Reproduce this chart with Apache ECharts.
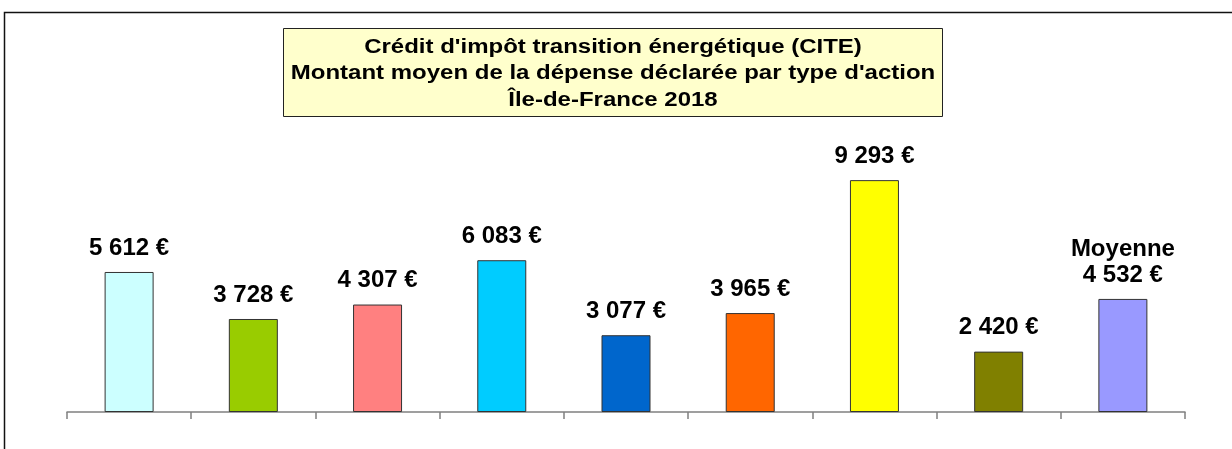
<!DOCTYPE html>
<html lang="fr">
<head>
    <meta charset="UTF-8"/>
    <title>CITE</title>
    <script src="https://cdn.jsdelivr.net/npm/echarts@6/dist/echarts.min.js"></script>
    <style>
        body { margin: 0; background: #fff; }
    </style>
</head>
<body>
<div id="main" style="width:1232px;height:449px;"></div>
<script type="text/javascript">
    // données
    var categories = ['Action 1', 'Action 2', 'Action 3', 'Action 4', 'Action 5', 'Action 6', 'Action 7', 'Action 8', 'Moyenne'];
    var values = [5612, 3728, 4307, 6083, 3077, 3965, 9293, 2420, 4532];
    var barColors = ['#CCFFFF', '#99CC00', '#FF8080', '#00CCFF', '#0066CC', '#FF6600', '#FFFF00', '#808000', '#9999FF'];
    var titleLines = [
        "Crédit d'impôt transition énergétique (CITE)",
        "Montant moyen de la dépense déclarée par type d'action",
        "Île-de-France 2018"
    ];

    function euro(v) {
        return String(v).replace(/\B(?=(\d{3})+(?!\d))/g, ' ') + ' €';
    }

    var myChart = echarts.init(document.getElementById('main'));

    var option = {
        animation: false,
        textStyle: { fontFamily: 'Liberation Sans, Arial, sans-serif' },
        grid: { left: 67, width: 1118, top: 162.5, bottom: 37 },
        graphic: [
            // cadre
            { type: 'polyline', shape: { points: [[4.5, 449], [4.5, 12.5], [1232, 12.5]] },
              style: { stroke: '#111', lineWidth: 1.5, fill: null } },
            // titre
            { type: 'rect', shape: { x: 283.5, y: 28.5, width: 659, height: 88 },
              style: { fill: '#FFFFCC', stroke: '#222', lineWidth: 1 } },
            { type: 'text', x: 613, y: 73.5, scaleX: 1.2,
              style: { text: titleLines.join('\n'), fill: '#000', font: 'bold 20px Liberation Sans, Arial, sans-serif',
                       align: 'center', verticalAlign: 'middle', lineHeight: 26.5 } }
        ],
        xAxis: {
            type: 'category',
            data: categories,
            axisLine: { lineStyle: { color: '#808080', width: 1.5 } },
            axisTick: { show: true, length: 7, lineStyle: { color: '#808080', width: 1.5 } },
            axisLabel: { show: false }
        },
        yAxis: {
            type: 'value',
            min: 0,
            max: 10000,
            show: false,
            splitLine: { show: false }
        },
        series: [{
            type: 'bar',
            barWidth: 49,
            data: values.map(function (v, i) {
                return { value: v, itemStyle: { color: barColors[i] } };
            }),
            itemStyle: { borderColor: '#333', borderWidth: 1 },
            label: {
                show: true,
                position: 'top',
                distance: 11,
                color: '#000',
                fontWeight: 'bold',
                fontSize: 24,
                lineHeight: 26,
                formatter: function (p) {
                    return p.dataIndex === categories.length - 1 ? 'Moyenne\n' + euro(p.value) : euro(p.value);
                }
            }
        }]
    };

    myChart.setOption(option);
</script>
</body>
</html>
